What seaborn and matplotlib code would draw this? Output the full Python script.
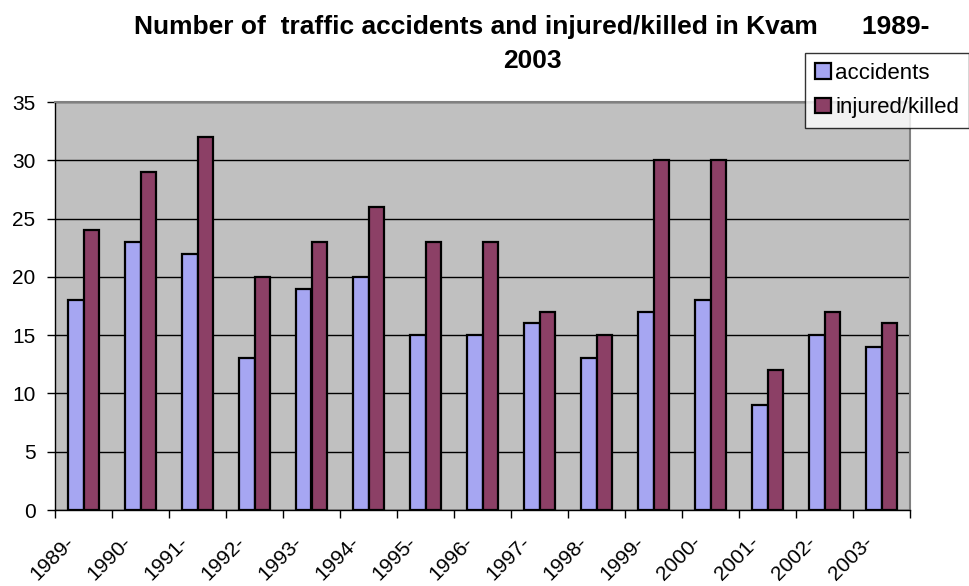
import numpy as np
import pandas as pd
import matplotlib
matplotlib.use('Agg')
import matplotlib.pyplot as plt
import matplotlib.transforms as mtransforms
import seaborn as sns

years = ['1989-', '1990-', '1991-', '1992-', '1993-', '1994-', '1995-', '1996-',
         '1997-', '1998-', '1999-', '2000-', '2001-', '2002-', '2003-']
accidents = [18, 23, 22, 13, 19, 20, 15, 15, 16, 13, 17, 18, 9, 15, 14]
injured_killed = [24, 29, 32, 20, 23, 26, 23, 23, 17, 15, 30, 30, 12, 17, 16]
series_names = ['accidents', 'injured/killed']
colors = ['#9999FF', '#993366']

df = pd.DataFrame({
    'year': years * 2,
    'value': accidents + injured_killed,
    'series': [series_names[0]] * len(years) + [series_names[1]] * len(years),
})

sns.set_style('white')
plt.rcParams['font.family'] = ['Liberation Sans', 'DejaVu Sans']
plt.rcParams['text.color'] = 'black'
plt.rcParams['xtick.color'] = 'black'
plt.rcParams['ytick.color'] = 'black'

fig = plt.figure(figsize=(9.69, 5.86), dpi=100)
ax = fig.add_axes([55 / 969, 1 - 510 / 586, 855 / 969, 408 / 586])
ax.set_facecolor('#C0C0C0')

sns.barplot(data=df, x='year', y='value', hue='series', palette=colors,
            width=0.53, edgecolor='black', linewidth=1.6, ax=ax, zorder=3)

ax.set_xlim(-0.5, len(years) - 0.5)
ax.set_ylim(0, 35)
ax.set_yticks(np.arange(0, 36, 5))
ax.tick_params(axis='y', labelsize=15, length=6, width=1, direction='out', left=True,
               colors='black', pad=8)
ax.yaxis.grid(True, color='black', linewidth=1)
ax.set_axisbelow(True)

# ticks at category boundaries, labels rotated near the centre
ax.set_xticks(np.arange(-0.5, len(years), 1.0))
ax.set_xticklabels([])
ax.tick_params(axis='x', which='major', length=6, width=1, bottom=True, direction='out')
ax.set_xticks(np.arange(len(years)), minor=True)
ax.set_xticklabels(years, minor=True, rotation=45, ha='right', va='center',
                   rotation_mode='anchor', fontsize=15)
ax.tick_params(axis='x', which='minor', length=0, pad=21)
offset = mtransforms.ScaledTranslation(-12 / 100, 0, fig.dpi_scale_trans)
for lbl in ax.get_xticklabels(minor=True):
    lbl.set_transform(lbl.get_transform() + offset)

ax.set_xlabel('')
ax.set_ylabel('')

for side in ['left', 'bottom']:
    ax.spines[side].set_color('black')
    ax.spines[side].set_linewidth(1)
for side in ['top', 'right']:
    ax.spines[side].set_visible(True)
    ax.spines[side].set_color('#808080')
    ax.spines[side].set_linewidth(1.5)

handles, labels = ax.get_legend_handles_labels()
ax.get_legend().remove()
leg = fig.legend(handles, labels, loc='upper right', bbox_to_anchor=(1.0, 1 - 53 / 586),
                 fontsize=16, frameon=True, fancybox=False, edgecolor='black',
                 handlelength=0.7, handleheight=0.7, handletextpad=0.2,
                 borderpad=0.45, labelspacing=0.6, borderaxespad=0)
leg.get_frame().set_linewidth(1)
leg.set_zorder(10)

fig.text(532 / 969, 1 - 34 / 586,
         'Number of  traffic accidents and injured/killed in Kvam      1989-',
         ha='center', va='baseline', fontsize=19, fontweight='bold')
fig.text(532 / 969, 1 - 68 / 586, '2003',
         ha='center', va='baseline', fontsize=19, fontweight='bold')

fig.savefig('out.png', dpi=100)
